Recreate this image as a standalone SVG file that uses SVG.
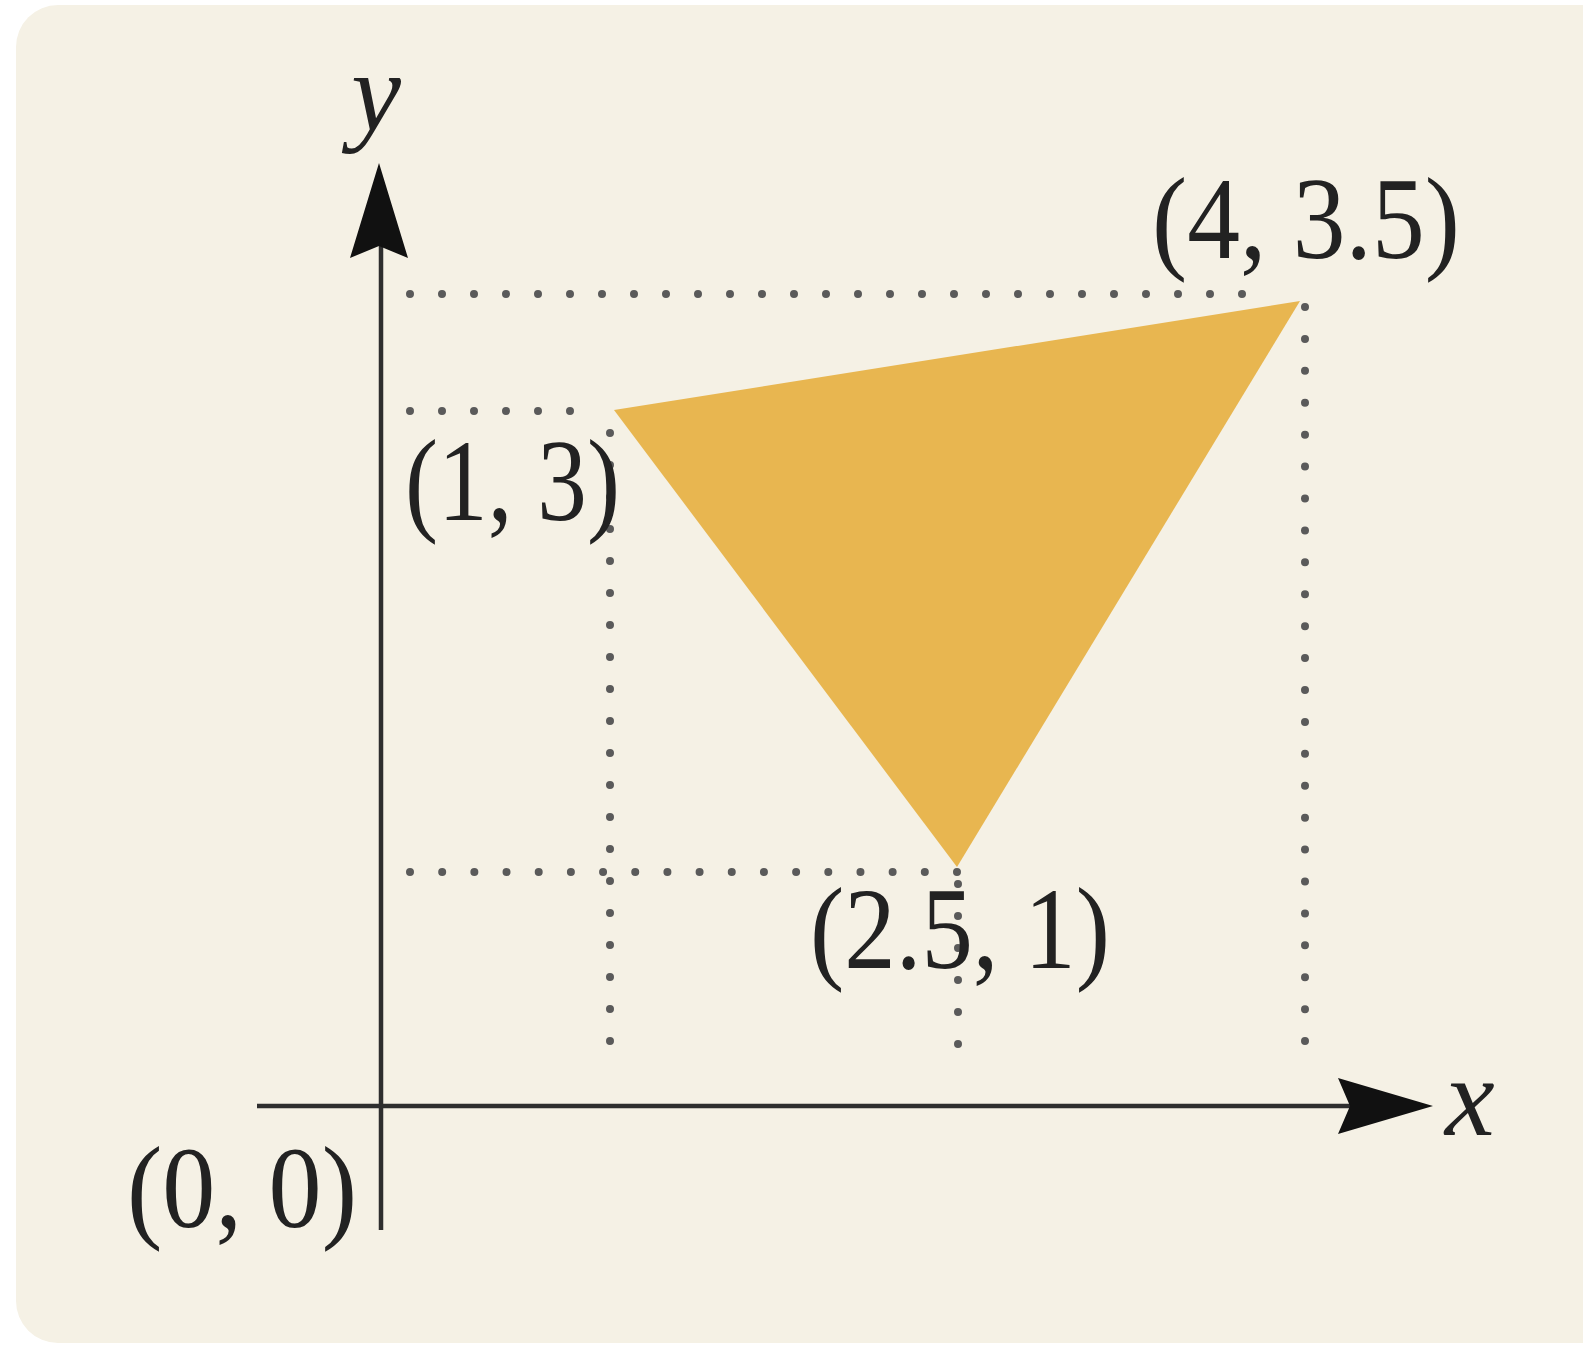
<svg xmlns="http://www.w3.org/2000/svg" width="1583" height="1349" viewBox="0 0 1583 1349">
  <style>
    .axis { stroke: #2e2e2e; stroke-width: 4.5; fill: none; }
    .dot { stroke: #5a5a5a; stroke-width: 8; stroke-linecap: round; fill: none; }
    .lbl { font-family: "Liberation Serif", "Times New Roman", serif; font-size: 116px; fill: #222; }
    .var { font-family: "Liberation Serif", "Times New Roman", serif; font-style: italic; font-size: 112px; fill: #222; }
  </style>
  <rect x="0" y="0" width="1583" height="1349" fill="#ffffff"/>
  <rect x="16" y="5" width="1620" height="1338" rx="42" fill="#F5F1E5"/>

  <g id="triangle">
    <polygon points="614,410 1300,301 957,867" fill="#E8B650"/>
  </g>

  <g id="guides">
    <line class="dot" x1="410" y1="294" x2="1274" y2="294" stroke-dasharray="0 32"/>
    <line class="dot" x1="1305" y1="307" x2="1305" y2="1073" stroke-dasharray="0 31.917"/>
    <line class="dot" x1="410" y1="411" x2="602" y2="411" stroke-dasharray="0 32"/>
    <line class="dot" x1="610" y1="433" x2="610" y2="1073" stroke-dasharray="0 32"/>
    <line class="dot" x1="410" y1="872" x2="957" y2="872" stroke-dasharray="0 32.176"/>
    <line class="dot" x1="958" y1="884" x2="958" y2="1076" stroke-dasharray="0 32"/>
  </g>

  <g id="axes">
    <line class="axis" x1="381" y1="240" x2="381" y2="1230"/>
    <line class="axis" x1="257" y1="1106" x2="1360" y2="1106"/>
    <polygon points="379,163 408,258 379,246 350,258" fill="#111"/>
    <polygon points="1433,1106 1338,1078 1350,1106 1338,1134" fill="#111"/>
  </g>

  <g id="labels">
    <text class="var" x="376" y="130" text-anchor="middle">y</text>
    <text class="var" x="1445" y="1135">x</text>
    <text class="lbl" x="1152" y="258" textLength="308" lengthAdjust="spacingAndGlyphs">(4, 3.5)</text>
    <text class="lbl" x="405" y="520" textLength="215" lengthAdjust="spacingAndGlyphs">(1, 3)</text>
    <text class="lbl" x="810" y="968" textLength="300" lengthAdjust="spacingAndGlyphs">(2.5, 1)</text>
    <text class="lbl" x="127" y="1227" textLength="230" lengthAdjust="spacingAndGlyphs">(0, 0)</text>
  </g>
</svg>
